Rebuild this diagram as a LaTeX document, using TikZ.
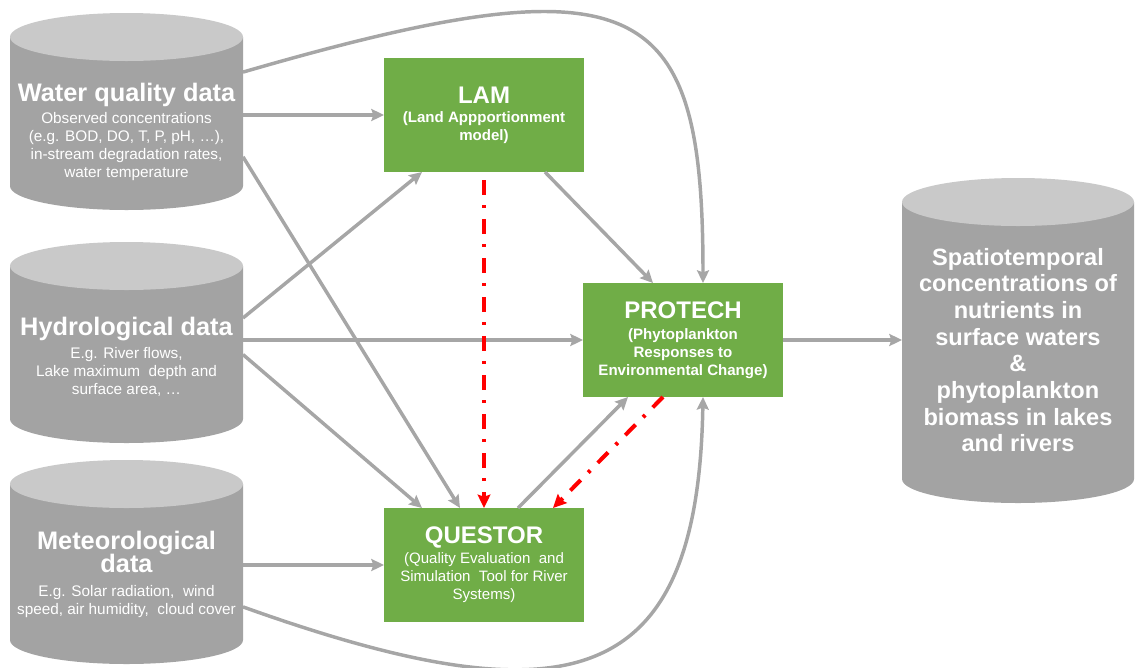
\documentclass[tikz,border=0pt]{standalone}
\usepackage{fontspec}
\setmainfont{Liberation Sans}
\usetikzlibrary{arrows.meta,calc}
\definecolor{cylbody}{HTML}{A3A3A3}
\definecolor{cyltop}{HTML}{C9C9C9}
\definecolor{linkgray}{HTML}{A6A6A6}
\definecolor{modelgreen}{HTML}{70AD47}
\definecolor{linkred}{HTML}{FF0000}

\begin{document}
\begin{tikzpicture}[x=0.75pt,y=-0.75pt,
  % data store drawn as an upright cylinder filling the node's rectangle
  cylnode/.style n args={2}{shape=rectangle, inner sep=0pt, outer sep=0pt,
    minimum width=#1, minimum height=#2, fill=white,
    path picture={
      \fill[cylbody] ([yshift=-18pt]path picture bounding box.north west)
        -- ([yshift=18pt]path picture bounding box.south west)
        arc[start angle=180, end angle=360, x radius=#1/2, y radius=18pt]
        -- ([yshift=-18pt]path picture bounding box.north east) -- cycle;
      \fill[cyltop] ([yshift=-18pt]path picture bounding box.north)
        ellipse[x radius=#1/2, y radius=18pt];
    }},
  cyltxt/.style={text=white, align=center, inner sep=0pt,
    font=\fontsize{11.5}{13.5}\selectfont},
  model/.style={fill=modelgreen, text=white, minimum width=150pt,
    minimum height=85.5pt, inner sep=2pt, outer sep=0pt, align=center,
    font=\fontsize{11.3}{13.5}\selectfont\bfseries},
  feed/.style={draw=linkgray, line width=2.6pt,
    -{Stealth[length=9.5pt,width=9pt,inset=1.5pt]}},
  couple/.style={draw=linkred, line width=3pt,
    dash pattern=on 11pt off 8pt on 2.25pt off 8pt,
    -{Stealth[length=10pt,width=9.5pt,inset=1.5pt]}}
]
\useasboundingbox (0,0) rectangle (1136,668);

% input and output data stores
\node[cylnode={174.75pt}{147.75pt}] (wq) at (126.5,111.5) {};
\node[cylnode={174.75pt}{150.75pt}] (hy) at (126.5,342.5) {};
\node[cylnode={174.75pt}{153pt}] (me) at (126.5,562) {};
\node[cylnode={174pt}{243.75pt}] (out) at (1018,340.5) {};

\node[cyltxt] (wqt) at (126.5,132) {{\fontsize{19}{19}\selectfont\bfseries Water quality data}\\[3pt]
  Observed concentrations\\(e.g. BOD, DO, T, P, pH, …),\\in-stream degradation rates,\\water temperature};
\node[cyltxt] (hyt) at (126.5,357) {{\fontsize{19}{19}\selectfont\bfseries Hydrological data}\\[3.5pt]
  E.g. River flows,\\Lake maximum\ \ depth and\\surface area, …};
\node[cyltxt] (met) at (126.5,574) {{\fontsize{19}{19}\selectfont\bfseries Meteorological}\\[-1pt]
  {\fontsize{19}{19}\selectfont\bfseries data}\\[4pt]
  E.g. Solar radiation,\ \ wind\\speed, air humidity,\ \ cloud cover};
\node[cyltxt, font=\fontsize{17.7}{20}\selectfont\bfseries] (outt) at (1018,350)
  {Spatiotemporal\\concentrations of\\nutrients in\\surface waters\\\&\\phytoplankton\\biomass in lakes\\and rivers};

% models
\node[model] (lam) at (484,115) {{\fontsize{18}{18}\selectfont LAM}\\[1pt](Land Appportionment\\model)};
\node[model] (pro) at (683,340) {{\fontsize{18}{18}\selectfont PROTECH}\\[2pt](Phytoplankton\\Responses to\\Environmental Change)};
\node[model, font=\fontsize{11.3}{13.5}\selectfont] (que) at (484,565)
  {{\fontsize{18}{18}\selectfont\bfseries QUESTOR}\\[1.5pt](Quality Evaluation\ \ and\\Simulation\ \ Tool for River\\Systems)};

% data feeds
\draw[feed] (wq.east |- lam.west) -- (lam.west);
\draw[feed] ($(wq.north east)!0.3!(wq.south east)$)
  .. controls +(400,-116) and +(0,-285) .. ($(pro.north west)!0.6!(pro.north east)$);
\draw[feed] ($(wq.north east)!0.73!(wq.south east)$) -- ($(que.north west)!0.38!(que.north east)$);
\draw[feed] ($(hy.north east)!0.378!(hy.south east)$) -- ($(lam.south west)!0.19!(lam.south east)$);
\draw[feed] (hy.east |- pro.west) -- (pro.west);
\draw[feed] ($(hy.north east)!0.56!(hy.south east)$) -- ($(que.north west)!0.19!(que.north east)$);
\draw[feed] (me.east |- que.west) -- (que.west);
\draw[feed] ($(me.north east)!0.72!(me.south east)$)
  .. controls +(330,118) and +(-5,290) .. ($(pro.south west)!0.6!(pro.south east)$);
\draw[feed] ($(lam.south west)!0.805!(lam.south east)$) -- ($(pro.north west)!0.35!(pro.north east)$);
\draw[feed] ($(que.north west)!0.67!(que.north east)$) -- ($(pro.south west)!0.225!(pro.south east)$);
\draw[feed] (pro.east) -- (out.west |- pro.east);

% model coupling
\draw[couple, shorten <=6pt] (lam.south) -- (que.north);
\draw[couple] ($(pro.south west)!0.4!(pro.south east)$) -- ($(que.north west)!0.845!(que.north east)$);
\end{tikzpicture}
\end{document}
